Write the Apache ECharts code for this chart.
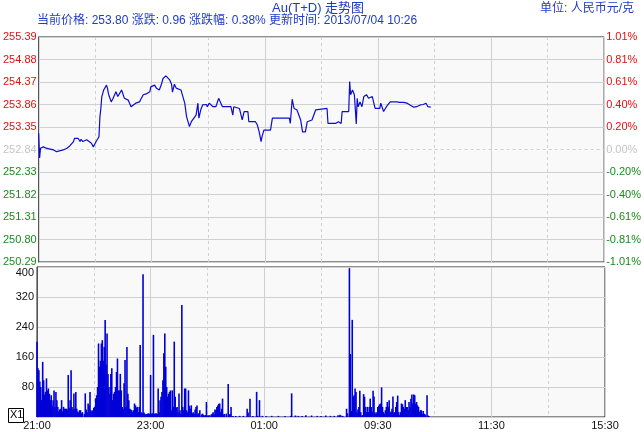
<!DOCTYPE html>
<html>
<head>
<meta charset="utf-8">
<script src="https://cdn.jsdelivr.net/npm/echarts@6/dist/echarts.min.js"></script>
<style>html,body{margin:0;padding:0;background:#fff;}#c{width:644px;height:432px;}</style>
</head>
<body>
<div id="c"></div>
<script>
// ---- data ----
const priceTickLabels = ['250.29','250.80','251.31','251.82','252.33','252.84','253.35','253.86','254.37','254.88','255.39'];
const pctTickLabels = ['-1.01%','-0.81%','-0.61%','-0.40%','-0.20%','0.00%','0.20%','0.40%','0.61%','0.81%','1.01%'];
const volTickLabels = ['', '80', '160', '240', '320', '400'];
const timeTickLabels = ['21:00','','23:00','','01:00','','09:30','','11:30','','15:30'];
const basePrice = 252.84;
const priceStep = 0.51;

// trading minute index (0 = 21:00, 330 = 09:00, 480 = 11:30/13:30, 600 = 15:30)
const priceMinutes = [0,1,2,3,5,8,12,16,19,22,26,28,30,33,37,38,40,42,44,45,47,51,53,56,58,61,64,65,66,67,68,69,71,72,73,74,75,77,79,81,82,84,86,88,89,91,93,95,98,100,103,107,109,111,114,118,119,123,125,128,130,132,135,139,141,142,144,146,148,151,153,155,157,160,162,163,167,169,170,172,174,176,178,179,181,185,188,191,193,195,204,206,207,213,216,218,222,223,230,232,234,236,237,239,246,248,266,267,269,271,274,276,278,280,283,285,287,290,294,296,306,307,315,317,318,320,321,322,329,330,331,333,335,337,338,339,341,343,345,347,348,350,352,354,355,357,362,363,366,368,369,373,375,376,380,383,387,391,394,398,401,405,406,408,411,412,413,415,416];
const priceValues = [253.21,252.65,252.87,252.83,252.90,252.87,252.85,252.83,252.79,252.81,252.83,252.79,252.87,252.92,253.02,253.09,253.06,253.09,253.02,253.07,253.02,253.06,253.02,252.98,252.90,253.02,253.13,253.58,253.77,254.04,254.11,254.19,254.15,254.30,254.23,254.11,254.04,253.92,254.00,253.96,254.15,254.04,254.00,254.19,254.15,254.00,254.04,253.96,253.81,253.83,253.89,253.92,254.00,254.08,254.10,254.15,254.26,254.30,254.23,254.19,254.30,254.45,254.51,254.42,254.32,254.14,254.32,254.23,254.19,254.19,254.15,253.89,253.58,253.36,253.47,253.51,253.62,253.89,253.55,253.74,253.85,253.81,253.86,253.81,253.89,253.81,253.81,254.00,254.00,253.81,253.81,253.62,253.81,253.77,253.51,253.70,253.70,253.47,253.47,253.40,253.24,253.02,253.13,253.28,253.28,253.55,253.55,253.43,253.98,253.77,253.74,253.77,253.51,253.24,253.24,253.47,253.51,253.51,253.74,253.77,253.77,253.43,253.43,253.47,253.47,253.51,253.43,253.70,253.70,254.38,254.08,254.19,254.08,253.42,254.00,253.81,253.92,253.81,254.04,254.04,254.08,254.00,254.04,254.04,254.08,253.77,253.77,253.89,253.70,253.70,253.81,253.92,253.96,253.92,253.92,253.91,253.91,253.89,253.85,253.80,253.81,253.85,253.83,253.86,253.89,253.85,253.81,253.83,253.80];

const volMinutes = [0,1,2,3,4,5,6,7,8,9,10,11,12,13,14,15,16,17,18,19,20,21,22,23,24,25,26,27,28,29,30,31,32,33,34,35,36,37,38,39,40,41,42,43,44,45,46,47,48,50,51,52,53,54,55,56,57,58,59,60,61,62,63,64,65,66,67,68,69,70,71,72,73,74,75,76,77,78,79,80,81,82,83,84,85,86,87,88,89,90,91,92,93,94,95,96,97,98,99,100,101,102,103,104,105,106,107,108,109,110,111,112,113,114,115,116,117,118,119,120,121,122,123,124,125,126,127,128,129,130,131,132,133,134,135,136,137,138,139,140,141,142,143,144,145,146,147,148,149,150,151,152,153,154,155,156,157,158,159,160,161,162,163,164,165,166,167,168,169,170,171,172,174,175,176,177,178,179,180,181,182,184,185,186,187,188,189,190,191,192,193,194,195,196,197,198,200,202,203,204,205,207,210,214,218,222,223,225,228,232,233,235,238,242,248,255,262,268,269,273,276,280,284,290,296,300,305,310,314,318,320,321,323,327,328,330,331,332,333,334,335,336,337,338,339,340,341,342,343,344,345,346,347,348,349,350,351,352,353,354,355,356,357,358,359,360,361,362,363,364,365,366,367,368,369,370,371,372,373,374,375,376,377,378,379,380,381,382,383,384,385,386,387,388,389,390,391,392,393,394,395,396,397,398,399,400,401,402,403,404,405,406,407,408,409,410,412,413,414];
const volValues = [201,130,125,95,80,45,147,98,60,67,103,71,76,62,45,58,30,45,71,27,67,45,27,15,20,22,45,15,27,22,22,22,20,112,25,45,125,27,20,63,22,67,22,15,12,18,18,10,13,8,63,20,13,36,31,67,18,15,18,25,27,50,58,80,196,134,150,196,205,150,187,259,140,223,115,80,62,115,130,45,62,67,80,120,156,71,71,115,71,27,22,90,152,27,187,62,45,22,20,18,13,18,36,31,25,27,13,27,192,13,10,381,12,9,7,8,9,10,8,112,9,10,219,9,9,10,8,76,13,45,54,67,98,170,223,134,80,54,62,67,71,18,71,27,201,54,25,27,13,63,18,9,299,27,18,76,76,18,13,71,30,22,31,10,13,9,20,27,31,9,10,18,7,9,5,4,5,40,4,4,5,7,9,13,7,20,18,27,31,35,36,13,22,49,7,8,9,88,7,8,27,3,3,3,3,22,12,49,3,67,3,45,3,3,3,3,3,3,63,4,3,3,5,4,3,3,4,3,3,5,6,4,3,22,10,397,168,16,259,54,58,76,67,13,20,27,70,13,4,5,61,54,27,13,27,13,27,49,27,14,70,55,13,9,13,27,30,34,36,79,27,13,9,18,27,40,27,45,13,15,22,55,13,13,27,40,57,13,5,13,36,34,27,22,45,27,27,18,40,27,49,60,36,60,58,36,40,31,27,13,18,18,8,16,9,7,58,4,3];

// ---- build ----
const priceData = priceMinutes.map((m, i) => [m, (priceValues[i] - basePrice) / priceStep]);
const volData = volMinutes.map((m, i) => [m, volValues[i]]);

const GRID = '#d0d0d0';
const FONT = 'Liberation Sans, Arial, sans-serif';
const RED = '#e01010', GREEN = '#1a8a1a', GRAY = '#c4c4c4';
const solidCols = priceTickLabels.map((_, i) => i === 5 ? 'transparent' : GRID);
const dashCols = priceTickLabels.map((_, i) => i === 5 ? GRID : 'transparent');

function xAxisPair(gridIndex, withLabels) {
  const common = {
    type: 'value', gridIndex: gridIndex, min: 0, max: 600, interval: 60,
    axisTick: {show: false}, axisLine: {show: false}
  };
  return [
    Object.assign({}, common, {
      splitLine: {show: true, lineStyle: {color: [GRID, 'transparent'], type: 'solid', width: 1}},
      axisLabel: withLabels ? {
        show: true, margin: 3, color: '#111', fontSize: 11, fontFamily: FONT,
        formatter: v => timeTickLabels[Math.round(v / 60)] || ''
      } : {show: false}
    }),
    Object.assign({}, common, {
      splitLine: {show: true, lineStyle: {color: ['transparent', GRID], type: [3, 3], width: 1}},
      axisLabel: {show: false}
    })
  ];
}

const chart = echarts.init(document.getElementById('c'), null, {renderer: 'canvas'});
chart.setOption({
  animation: false,
  backgroundColor: '#ffffff',
  grid: [
    {left: 37, top: 37, width: 568, height: 225, show: true, backgroundColor: '#f9f9f9', borderColor: '#222', borderWidth: 1},
    {left: 37, top: 267, width: 568, height: 150, show: true, backgroundColor: '#f9f9f9', borderColor: '#222', borderWidth: 1}
  ],
  xAxis: [].concat(xAxisPair(0, false), xAxisPair(1, true)),
  yAxis: [
    {
      type: 'value', gridIndex: 0, min: -5, max: 5, interval: 1, position: 'left',
      axisLine: {show: true, lineStyle: {color: '#555', width: 1}}, axisTick: {show: false},
      splitLine: {show: true, lineStyle: {color: solidCols, width: 1}},
      axisLabel: {
        margin: 2, fontSize: 11, fontFamily: FONT,
        formatter: v => priceTickLabels[Math.round(v) + 5],
        color: v => v > 0 ? RED : (v < 0 ? GREEN : GRAY)
      }
    },
    {
      type: 'value', gridIndex: 0, min: -5, max: 5, interval: 1, position: 'right',
      axisLine: {show: false}, axisTick: {show: false},
      splitLine: {show: true, lineStyle: {color: dashCols, type: [3, 3], width: 1}},
      axisLabel: {
        margin: 2, fontSize: 11, fontFamily: FONT,
        formatter: v => pctTickLabels[Math.round(v) + 5],
        color: v => v > 0 ? RED : (v < 0 ? GREEN : GRAY)
      }
    },
    {
      type: 'value', gridIndex: 1, min: 0, max: 400, interval: 80, position: 'left',
      axisLine: {show: true, lineStyle: {color: '#555', width: 1}}, axisTick: {show: false},
      splitLine: {show: true, lineStyle: {color: GRID, width: 1}},
      axisLabel: {
        margin: 3, fontSize: 11, fontFamily: FONT, color: '#111',
        verticalAlignMaxLabel: 'top',
        formatter: v => volTickLabels[Math.round(v / 80)]
      }
    }
  ],
  series: [
    {
      type: 'line', xAxisIndex: 0, yAxisIndex: 0, data: priceData,
      showSymbol: false, symbol: 'none', smooth: false,
      lineStyle: {color: '#0c0cd0', width: 1.2}, silent: true, z: 5
    },
    {
      type: 'bar', xAxisIndex: 2, yAxisIndex: 2, data: volData,
      barWidth: 1.6, itemStyle: {color: '#0000d8'}, silent: true, large: false
    }
  ],
  graphic: [
    {type: 'text', left: 272, top: 2, style: {text: 'Au(T+D) 走势图', font: '13px Liberation Sans, Noto Sans CJK SC, sans-serif', fill: '#1e3cc8'}},
    {type: 'text', left: 540, top: 3, style: {text: '单位: 人民币元/克', font: '12px Liberation Sans, Noto Sans CJK SC, sans-serif', fill: '#1e3cc8'}},
    {type: 'text', left: 37, top: 15, style: {text: '当前价格: 253.80 涨跌: 0.96 涨跌幅: 0.38% 更新时间: 2013/07/04 10:26', font: '12px Liberation Sans, Noto Sans CJK SC, sans-serif', fill: '#1e3cc8'}},
    {type: 'rect', left: 8, top: 408, shape: {width: 15, height: 14}, style: {fill: '#fff', stroke: '#000', lineWidth: 1}},
    {type: 'text', left: 10, top: 409, style: {text: 'X1', font: '11px Liberation Sans, Arial, sans-serif', fill: '#000'}}
  ]
});
</script>
</body>
</html>
